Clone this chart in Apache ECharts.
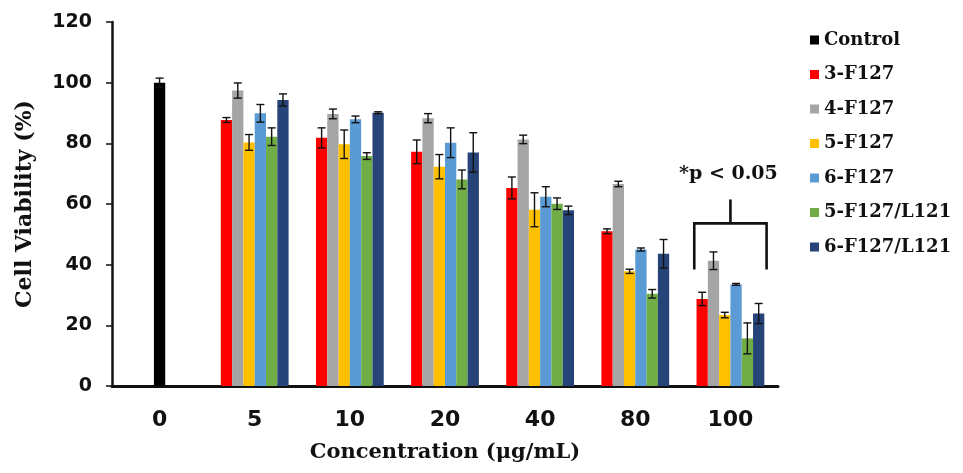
<!DOCTYPE html>
<html>
<head>
<meta charset="utf-8">
<script src="https://cdn.jsdelivr.net/npm/echarts@6/dist/echarts.min.js"></script>
<style>
  html, body { margin: 0; padding: 0; background: #ffffff; }
  #chart { width: 963px; height: 473px; }
</style>
</head>
<body>
<div id="chart"></div>
<script>
// Concentrations on the x axis
const categories = ['0', '5', '10', '20', '40', '80', '100'];

// Untreated control (only at 0 µg/mL)
const controlMean = [100, null, null, null, null, null, null];
const controlSd   = [1.5, null, null, null, null, null, null];

// Formulations: mean viability (%) and standard deviation
const f3Mean   = [null, 87.7, 81.8, 77.2, 65.3, 51.0, 28.7];
const f3Sd     = [null, 0.8, 3.3, 3.9, 3.6, 0.8, 2.2];
const f4Mean   = [null, 97.4, 89.7, 88.3, 81.3, 66.6, 41.3];
const f4Sd     = [null, 2.5, 1.6, 1.5, 1.4, 0.9, 2.9];
const f5Mean   = [null, 80.3, 79.7, 72.3, 58.1, 37.8, 23.4];
const f5Sd     = [null, 2.6, 4.7, 4.0, 5.6, 0.7, 0.9];
const f6Mean   = [null, 89.9, 87.9, 80.2, 62.4, 45.0, 33.5];
const f6Sd     = [null, 2.9, 1.1, 4.9, 3.3, 0.5, 0.3];
const fl5Mean  = [null, 82.2, 75.8, 68.1, 60.1, 30.4, 15.7];
const fl5Sd    = [null, 2.9, 1.1, 3.1, 1.9, 1.4, 5.1];
const fl6Mean  = [null, 94.3, 90.1, 77.0, 57.9, 43.6, 23.9];
const fl6Sd    = [null, 2.0, 0.3, 6.5, 1.4, 4.7, 3.3];

const groupNames  = ['3-F127', '4-F127', '5-F127', '6-F127', '5-F127/L121', '6-F127/L121'];
const groupColors = ['#ff0000', '#a5a5a5', '#ffc000', '#5b9bd5', '#70ad47', '#264478'];
const groupMeans  = [f3Mean, f4Mean, f5Mean, f6Mean, fl5Mean, fl6Mean];
const groupSds    = [f3Sd, f4Sd, f5Sd, f6Sd, fl5Sd, fl6Sd];

// Significance bracket over the 100 µg/mL group (y levels in %)
const bracketCategory = 6;
const bracketFoot = 38.4;
const bracketBar  = 53.6;
const bracketTip  = 61.5;
const bracketTextLevel = 70.0;
const bracketText = '*p < 0.05';

const BAR_W = 11.3;
const INK = '#111111';
const SERIF = '"DejaVu Serif", serif';
const SANS = '"DejaVu Sans", sans-serif';

// Error-bar records: [categoryIndex, mean, sd, slotOffset]
const errData = [];
controlMean.forEach((v, i) => { if (v != null) errData.push([i, v, controlSd[i], 0]); });
groupMeans.forEach((arr, s) => {
  arr.forEach((v, i) => { if (v != null) errData.push([i, v, groupSds[s][i], s - 2.5]); });
});

const barSeries = [{
  name: 'Control',
  type: 'bar',
  xAxisIndex: 1,
  yAxisIndex: 0,
  barWidth: BAR_W,
  data: controlMean,
  itemStyle: { color: '#000000' }
}].concat(groupNames.map((n, s) => ({
  name: n,
  type: 'bar',
  xAxisIndex: 0,
  yAxisIndex: 0,
  barWidth: BAR_W,
  barGap: '0%',
  data: groupMeans[s],
  itemStyle: { color: groupColors[s] }
})));

const errorSeries = {
  type: 'custom',
  xAxisIndex: 0,
  yAxisIndex: 0,
  silent: true,
  z: 5,
  encode: { x: 0, y: 1 },
  data: errData,
  renderItem(params, api) {
    const cat = api.value(0), m = api.value(1), sd = api.value(2), slot = api.value(3);
    const top = api.coord([cat, m + sd]);
    const bot = api.coord([cat, m - sd]);
    const x = top[0] + slot * BAR_W;
    const cap = 4;
    const st = { stroke: INK, lineWidth: 1.4 };
    return {
      type: 'group',
      children: [
        { type: 'line', shape: { x1: x, y1: top[1], x2: x, y2: bot[1] }, style: st },
        { type: 'line', shape: { x1: x - cap, y1: top[1], x2: x + cap, y2: top[1] }, style: st },
        { type: 'line', shape: { x1: x - cap, y1: bot[1], x2: x + cap, y2: bot[1] }, style: st }
      ]
    };
  }
};

const bracketSeries = {
  type: 'custom',
  xAxisIndex: 0,
  yAxisIndex: 0,
  silent: true,
  z: 6,
  encode: { x: 0, y: 1 },
  data: [[bracketCategory, bracketBar]],
  renderItem(params, api) {
    const c = api.coord([api.value(0), bracketBar]);
    const foot = api.coord([api.value(0), bracketFoot])[1];
    const tip = api.coord([api.value(0), bracketTip])[1];
    const ty = api.coord([api.value(0), bracketTextLevel])[1];
    const half = 3.2 * BAR_W;
    const st = { stroke: INK, lineWidth: 2.6, fill: null };
    return {
      type: 'group',
      children: [
        { type: 'polyline', shape: { points: [[c[0] - half, foot], [c[0] - half, c[1]], [c[0] + half, c[1]], [c[0] + half, foot]] }, style: st },
        { type: 'line', shape: { x1: c[0], y1: c[1], x2: c[0], y2: tip }, style: st },
        { type: 'text', x: c[0] - 2, y: ty, style: {
            text: bracketText, fill: INK, fontFamily: SERIF, fontWeight: 'bold', fontSize: 19,
            align: 'center', verticalAlign: 'middle' } }
      ]
    };
  }
};

const chart = echarts.init(document.getElementById('chart'), null, { renderer: 'canvas' });
chart.setOption({
  backgroundColor: '#ffffff',
  animation: false,
  grid: { left: 112, right: 185, top: 22, bottom: 87, containLabel: false },
  legend: {
    orient: 'vertical',
    left: 805,
    top: 26,
    itemWidth: 9,
    itemHeight: 9,
    itemGap: 16.5,
    icon: 'rect',
    data: ['Control'].concat(groupNames),
    textStyle: { fontFamily: SERIF, fontWeight: 'bold', fontSize: 18, color: INK, lineHeight: 18 }
  },
  xAxis: [{
    type: 'category',
    data: categories,
    gridIndex: 0,
    axisLine: { lineStyle: { color: INK, width: 3 } },
    axisTick: { show: false },
    axisLabel: { fontFamily: SANS, fontWeight: 'bold', fontSize: 22, color: INK, margin: 23 },
    name: 'Concentration (μg/mL)',
    nameLocation: 'middle',
    nameGap: 56,
    nameTextStyle: { fontFamily: SERIF, fontWeight: 'bold', fontSize: 21, color: INK }
  }, {
    type: 'category',
    data: categories,
    gridIndex: 0,
    show: false
  }],
  yAxis: [{
    type: 'value',
    min: 0,
    max: 120,
    interval: 20,
    axisLine: { show: true, lineStyle: { color: INK, width: 2.5 } },
    axisTick: { show: true, length: 6, lineStyle: { color: INK, width: 1.5 } },
    splitLine: { show: false },
    axisLabel: { fontFamily: SANS, fontWeight: 'bold', fontSize: 19, color: INK, margin: 20 },
    name: 'Cell Viability (%)',
    nameLocation: 'middle',
    nameGap: 76,
    nameTextStyle: { fontFamily: SERIF, fontWeight: 'bold', fontSize: 22, color: INK }
  }],
  series: barSeries.concat([errorSeries, bracketSeries])
});
</script>
</body>
</html>
